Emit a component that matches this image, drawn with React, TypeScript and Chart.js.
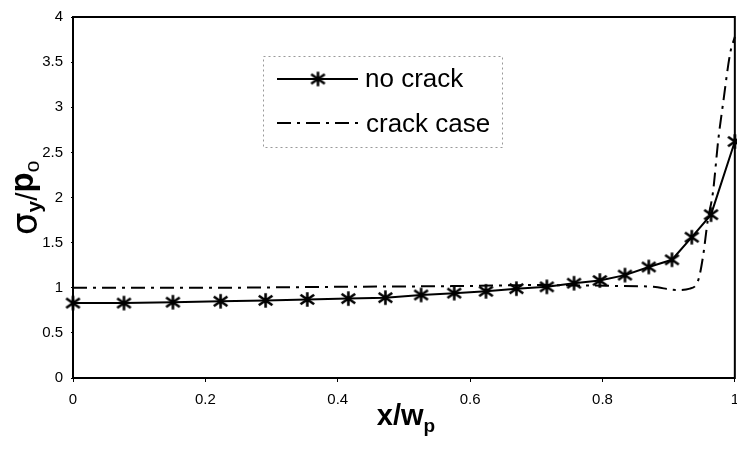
import React, { useEffect, useRef } from "react";
import { Chart, registerables } from "chart.js";

Chart.register(...registerables);

const seriesLabels = ["no crack", "crack case"];

const noCrackX = [0, 0.077, 0.151, 0.223, 0.291, 0.354, 0.416, 0.472, 0.526, 0.576, 0.624, 0.67, 0.716, 0.757, 0.796, 0.834, 0.87, 0.905, 0.935, 0.964, 1.0];
const noCrackY = [0.83, 0.83, 0.84, 0.85, 0.86, 0.87, 0.88, 0.89, 0.92, 0.94, 0.96, 0.99, 1.01, 1.05, 1.08, 1.14, 1.23, 1.31, 1.56, 1.81, 2.62];

const crackX = [0, 0.2, 0.4, 0.6, 0.7, 0.82, 0.877, 0.912, 0.932, 0.945, 0.952, 0.959, 0.967, 0.975, 0.982, 0.993, 1.0];
const crackY = [1.0, 1.0, 1.01, 1.02, 1.03, 1.02, 1.01, 0.975, 0.99, 1.09, 1.35, 1.74, 2.06, 2.64, 3.03, 3.6, 3.78];

const xTicks = [0, 0.2, 0.4, 0.6, 0.8, 1];
const yTicks = [0, 0.5, 1, 1.5, 2, 2.5, 3, 3.5, 4];

function makeStar(size: number): HTMLCanvasElement {
  const c = document.createElement("canvas");
  c.width = size;
  c.height = size;
  const g = c.getContext("2d")!;
  g.strokeStyle = "#000";
  g.lineWidth = 2.6;
  const m = 1.2;
  g.beginPath();
  g.moveTo(size / 2, m);
  g.lineTo(size / 2, size - m);
  g.moveTo(m + 0.5, m + 2.5);
  g.lineTo(size - m - 0.5, size - m - 2.5);
  g.moveTo(size - m - 0.5, m + 2.5);
  g.lineTo(m + 0.5, size - m - 2.5);
  g.stroke();
  return c;
}

function drawPieces(ctx: CanvasRenderingContext2D, pieces: { t: string; font: string; dy: number }[], cx: number, cy: number) {
  let total = 0;
  for (const p of pieces) {
    ctx.font = p.font;
    total += ctx.measureText(p.t).width;
  }
  let x = cx - total / 2;
  for (const p of pieces) {
    ctx.font = p.font;
    ctx.fillText(p.t, x, cy + p.dy);
    x += ctx.measureText(p.t).width;
  }
}

export default function App() {
  const ref = useRef<HTMLCanvasElement>(null);
  useEffect(() => {
    const star = makeStar(17);
    const decor = {
      id: "decor",
      afterDraw(chart: any) {
        const { ctx, chartArea: a } = chart;
        ctx.save();
        ctx.strokeStyle = "#000";
        ctx.lineWidth = 2;
        ctx.setLineDash([]);
        ctx.strokeRect(a.left, a.top, a.right - a.left, a.bottom - a.top);

        // legend
        const lx0 = 263, ly0 = 56, lx1 = 502, ly1 = 147;
        ctx.fillStyle = "#fff";
        ctx.fillRect(lx0, ly0, lx1 - lx0, ly1 - ly0);
        ctx.strokeStyle = "#999";
        ctx.lineWidth = 1;
        ctx.setLineDash([2, 3]);
        ctx.strokeRect(lx0 + 0.5, ly0 + 0.5, lx1 - lx0, ly1 - ly0);
        ctx.strokeStyle = "#000";
        ctx.lineWidth = 2;
        ctx.setLineDash([]);
        ctx.beginPath();
        ctx.moveTo(277, 79);
        ctx.lineTo(358, 79);
        ctx.stroke();
        ctx.drawImage(star, 318 - 8.5, 79 - 8.5);
        ctx.setLineDash([14, 6, 3, 6]);
        ctx.beginPath();
        ctx.moveTo(277, 123);
        ctx.lineTo(358, 123);
        ctx.stroke();
        ctx.setLineDash([]);
        ctx.fillStyle = "#000";
        ctx.textAlign = "left";
        ctx.textBaseline = "alphabetic";
        ctx.font = "26px Arial, 'Liberation Sans', sans-serif";
        ctx.fillText(chart.data.datasets[0].label, 365, 87);
        ctx.fillText(chart.data.datasets[1].label, 366, 132);

        // x title
        drawPieces(
          ctx,
          [
            { t: "x/w", font: "bold 29px Arial, 'Liberation Sans', sans-serif", dy: 0 },
            { t: "p", font: "bold 19px Arial, 'Liberation Sans', sans-serif", dy: 7 },
          ],
          406,
          425
        );

        // y title
        ctx.translate(37, 198);
        ctx.rotate(-Math.PI / 2);
        drawPieces(
          ctx,
          [
            { t: "σ", font: "36px 'DejaVu Sans', sans-serif", dy: 0 },
            { t: "y", font: "bold 21px Arial, 'Liberation Sans', sans-serif", dy: 4 },
            { t: "/", font: "30px Arial, 'Liberation Sans', sans-serif", dy: 0 },
            { t: "p", font: "bold 33px Arial, 'Liberation Sans', sans-serif", dy: -4 },
            { t: "o", font: "21px Arial, 'Liberation Sans', sans-serif", dy: 2 },
          ],
          0,
          0
        );
        ctx.restore();
      },
    };

    const tickFont = { family: "Arial, 'Liberation Sans', sans-serif", size: 15 };
    const chart = new Chart(ref.current!, {
      type: "line",
      data: {
        datasets: [
          {
            label: seriesLabels[0],
            data: noCrackX.map((x, i) => ({ x, y: noCrackY[i] })),
            borderColor: "#000",
            backgroundColor: "#000",
            borderWidth: 2,
            pointStyle: star as any,
            pointRadius: 8,
            tension: 0,
            clip: false as any,
            order: 1,
          },
          {
            label: seriesLabels[1],
            data: crackX.map((x, i) => ({ x, y: crackY[i] })),
            borderColor: "#000",
            borderWidth: 2,
            borderDash: [14, 6, 3, 6],
            pointRadius: 0,
            cubicInterpolationMode: "monotone",
            clip: false as any,
            order: 2,
          },
        ],
      },
      options: {
        animation: false,
        responsive: false,
        maintainAspectRatio: false,
        layout: { padding: { top: 12, right: 0, left: 0, bottom: 0 } },
        plugins: { legend: { display: false }, tooltip: { enabled: false } },
        scales: {
          x: {
            type: "linear",
            min: 0,
            max: 1,
            afterBuildTicks: (s: any) => {
              s.ticks = xTicks.map((v) => ({ value: v }));
            },
            afterFit: (s: any) => {
              s.height = 72;
            },
            ticks: {
              color: "#000",
              font: tickFont,
              padding: 9,
              maxRotation: 0,
              callback: (v: any) => String(v),
            },
            grid: { drawOnChartArea: false, drawTicks: true, tickLength: 4, color: "#000" },
            border: { display: false },
          },
          y: {
            type: "linear",
            min: 0,
            max: 4,
            afterBuildTicks: (s: any) => {
              s.ticks = yTicks.map((v) => ({ value: v }));
            },
            afterFit: (s: any) => {
              s.width = 73;
            },
            ticks: {
              color: "#000",
              font: tickFont,
              padding: 8,
              callback: (v: any) => String(v),
            },
            grid: { drawOnChartArea: false, drawTicks: true, tickLength: 2, color: "#000" },
            border: { display: false },
          },
        },
      } as any,
      plugins: [decor],
    });
    return () => chart.destroy();
  }, []);
  return (
    <div style={{ position: "absolute", left: 0, top: 0, width: 737, height: 450, overflow: "hidden" }}>
      <canvas ref={ref} width={748} height={450} style={{ display: "block", width: 748, height: 450 }} />
    </div>
  );
}
